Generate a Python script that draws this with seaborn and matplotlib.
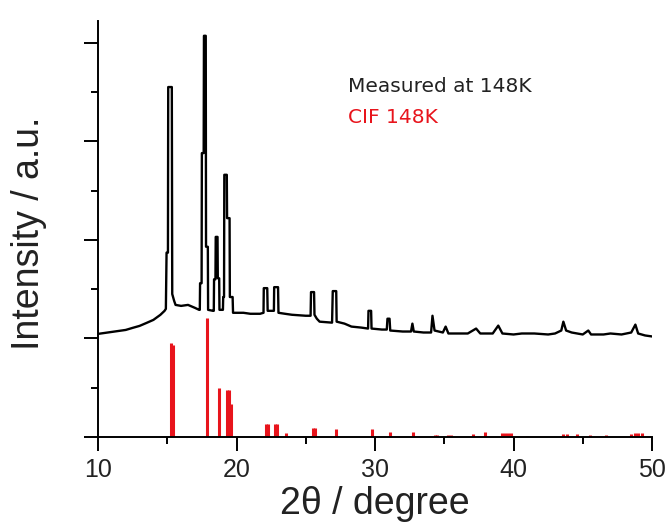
import matplotlib
matplotlib.use("Agg")
import matplotlib.pyplot as plt
import seaborn as sns
import numpy as np
from matplotlib.ticker import MultipleLocator

# ---- data ----
meas_2theta = [10.0, 10.5, 11.0, 11.5, 12.0, 12.5, 13.0, 13.5, 14.0, 14.5, 14.8, 14.9,
               14.95, 15.05, 15.07, 15.33, 15.36, 15.5, 15.6, 16.0, 16.5, 17.0, 17.3,
               17.35, 17.37, 17.48, 17.5, 17.63, 17.65, 17.78, 17.8, 17.93, 17.95, 18.3,
               18.36, 18.38, 18.48, 18.5, 18.63, 18.65, 18.75, 18.77, 19.0,
               19.02, 19.04, 19.1, 19.12, 19.3, 19.32, 19.5, 19.52, 19.72, 19.75,
               20.5, 21.0, 21.7, 21.95, 21.97, 22.22, 22.25, 22.7, 22.72, 23.0, 23.03, 23.5,
               24.0, 25.0, 25.35, 25.38, 25.6, 25.63, 25.8, 26.0, 26.9, 26.95, 27.2, 27.23,
               27.8, 28.3, 29.0, 29.5, 29.53, 29.72, 29.75, 30.5, 30.85, 30.9, 31.05, 31.1,
               32.0, 32.6, 32.7, 32.8, 33.5, 34.05, 34.15, 34.3, 34.9, 35.1, 35.3, 36.0,
               36.7, 37.3, 37.6, 38.5, 38.9, 39.2, 40.0, 40.6, 41.5, 42.5, 43.0, 43.45,
               43.6, 43.8, 44.2, 45.0, 45.4, 45.6, 46.5, 47.0, 47.8, 48.5, 48.8, 49.0,
               49.5, 50.0]
meas_intensity = [1.046, 1.056, 1.066, 1.076, 1.086, 1.107, 1.127, 1.157, 1.188, 1.239, 1.279, 1.30,
                  1.87, 1.87, 3.55, 3.55, 1.45, 1.38, 1.34, 1.33, 1.34, 1.31, 1.29,
                  1.29, 1.56, 1.56, 2.88, 2.88, 4.07, 4.07, 1.93, 1.93, 1.29, 1.28,
                  1.28, 1.60, 1.60, 2.03, 2.03, 1.61, 1.61, 1.29, 1.29,
                  1.29, 1.42, 1.42, 2.66, 2.66, 2.22, 2.22, 1.42, 1.42, 1.26,
                  1.26, 1.25, 1.25, 1.26, 1.51, 1.51, 1.28, 1.28, 1.52, 1.52, 1.26, 1.25,
                  1.24, 1.23, 1.23, 1.47, 1.47, 1.24, 1.20, 1.17, 1.16, 1.48, 1.48, 1.17,
                  1.15, 1.12, 1.11, 1.10, 1.28, 1.28, 1.10, 1.09, 1.09, 1.20, 1.20, 1.08,
                  1.07, 1.07, 1.15, 1.07, 1.06, 1.06, 1.23, 1.08, 1.06, 1.12, 1.05, 1.05,
                  1.05, 1.10, 1.05, 1.05, 1.13, 1.05, 1.04, 1.05, 1.05, 1.04, 1.05, 1.08,
                  1.17, 1.08, 1.06, 1.04, 1.08, 1.04, 1.04, 1.05, 1.04, 1.06, 1.14, 1.05,
                  1.03, 1.02]

cif_2theta = [15.28, 15.38, 17.85, 18.75, 19.35, 19.45, 19.6, 22.1, 22.3, 22.75, 22.9,
              23.6, 25.55, 25.7, 27.15, 29.8, 31.1, 32.75, 34.3, 34.5, 35.3, 35.5,
              37.1, 37.95, 39.2, 39.4, 39.6, 39.8, 41.0, 43.6, 43.85, 44.6, 45.5,
              46.7, 48.5, 48.8, 49.0, 49.3, 49.9]
cif_intensity = [0.955, 0.93, 1.21, 0.50, 0.48, 0.48, 0.33, 0.13, 0.13, 0.13, 0.13,
                 0.04, 0.09, 0.09, 0.08, 0.08, 0.05, 0.05, 0.02, 0.02, 0.02, 0.02,
                 0.03, 0.05, 0.04, 0.04, 0.04, 0.04, 0.01, 0.03, 0.03, 0.03, 0.02,
                 0.02, 0.03, 0.04, 0.04, 0.04, 0.015]

x_ticks = [10, 20, 30, 40, 50]
x_label = "2θ / degree"
y_label = "Intensity / a.u."
label_measured = "Measured at 148K"
label_cif = "CIF 148K"

# ---- style ----
sns.set_style("ticks")
plt.rcParams['font.family'] = ['Liberation Sans', 'DejaVu Sans']

fig = plt.figure(figsize=(6.68, 5.22), dpi=100)
ax = fig.add_axes([98/668, (522-437)/522, (652-98)/668, (437-21)/522])

red = "#e8141c"
ax.vlines(cif_2theta, 0, cif_intensity, color=red, lw=2.2, zorder=2)
sns.lineplot(x=meas_2theta, y=meas_intensity, color="black", lw=1.7,
             estimator=None, sort=False, ax=ax, zorder=3)

ax.set_xlim(10, 50)
ax.set_ylim(0, 4.22)
ax.set_xticks(x_ticks)
ax.xaxis.set_minor_locator(MultipleLocator(5))
ax.yaxis.set_major_locator(MultipleLocator(1))
ax.yaxis.set_minor_locator(MultipleLocator(0.5))
ax.set_yticklabels([])
ax.tick_params(axis='both', which='major', length=10, width=1.4, direction='out',
               color='black', labelsize=18, pad=5, labelcolor='#222222')
ax.tick_params(axis='both', which='minor', length=5, width=1.4, direction='out', color='black')

for s in ['top', 'right']:
    ax.spines[s].set_visible(False)
for s in ['left', 'bottom']:
    ax.spines[s].set_linewidth(1.4)
    ax.spines[s].set_color('black')

ax.set_xlabel(x_label, fontsize=27, color='#222222')
ax.set_ylabel(y_label, fontsize=27, color='#222222')
ax.xaxis.set_label_coords(0.5, -0.118)
ax.yaxis.set_label_coords(-0.092, 0.49)

ax.text(0.451, 0.843, label_measured, transform=ax.transAxes, fontsize=14.5,
        family=['DejaVu Sans'], color='#222222', ha='left', va='center')
ax.text(0.451, 0.768, label_cif, transform=ax.transAxes, fontsize=14.5,
        family=['DejaVu Sans'], color=red, ha='left', va='center')

fig.savefig("out.png", dpi=100)
